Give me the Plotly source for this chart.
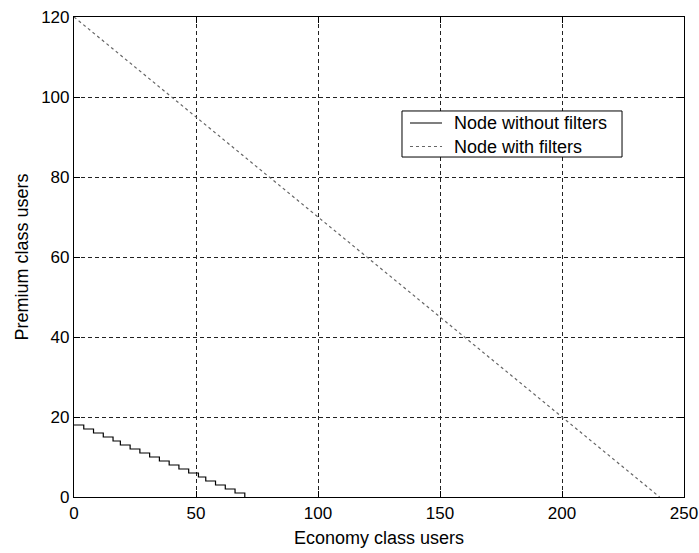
import plotly.graph_objects as go

# Capacity boundary: economy-class users vs. premium-class users
econ_no_filter = [0, 4, 8, 12, 16, 19, 23, 27, 31, 35, 39, 43, 47, 51, 54, 58, 62, 66, 70]
prem_no_filter = [18, 17, 16, 15, 14, 13, 12, 11, 10, 9, 8, 7, 6, 5, 4, 3, 2, 1, 0]

econ_filter = [0, 240]
prem_filter = [120, 0]

x_ticks = [0, 50, 100, 150, 200, 250]
y_ticks = [0, 20, 40, 60, 80, 100, 120]

series_names = ["Node without filters", "Node with filters"]
series_colors = ["black", "#666666"]
series_dash = ["solid", "3px,3px"]

FONT = "Liberation Sans, Arial, sans-serif"

fig = go.Figure()
fig.add_trace(go.Scatter(
    x=econ_no_filter, y=prem_no_filter, mode="lines", line_shape="hv",
    name=series_names[0], line=dict(color=series_colors[0], width=1.2, dash=series_dash[0]),
))
fig.add_trace(go.Scatter(
    x=econ_filter, y=prem_filter, mode="lines",
    name=series_names[1], line=dict(color=series_colors[1], width=1.2, dash=series_dash[1]),
))

axis_common = dict(
    showline=True, linecolor="black", linewidth=1.2, mirror="ticks",
    ticks="inside", ticklen=6, tickcolor="black", tickwidth=1,
    showgrid=True, gridcolor="#222222", gridwidth=1, griddash="4px,3px",
    zeroline=False, automargin=False,
    tickfont=dict(size=17, color="black", family=FONT),
)

fig.update_xaxes(
    range=[0, 250], tickvals=x_ticks, ticktext=[str(v) for v in x_ticks],
    title=dict(text="Economy class users", font=dict(size=18, color="black", family=FONT), standoff=9),
    **axis_common,
)
fig.update_yaxes(
    range=[0, 120], tickvals=y_ticks, ticktext=[str(v) for v in y_ticks],
    title=dict(text="Premium class users", font=dict(size=18, color="black", family=FONT), standoff=7),
    **axis_common,
)

# Compact boxed legend in the upper right part of the axes
box_x0, box_x1 = 0.5377, 0.8984
box_y0, box_y1 = 0.7083, 0.8042
row_y = [0.7792, 0.7302]
sample_x0, sample_x1 = 0.5508, 0.6033
label_x = 0.6213

fig.add_shape(type="rect", xref="paper", yref="paper",
              x0=box_x0, x1=box_x1, y0=box_y0, y1=box_y1,
              line=dict(color="black", width=1), fillcolor="white", layer="above")
for name, color, dash, ry in zip(series_names, series_colors, series_dash, row_y):
    fig.add_shape(type="line", xref="paper", yref="paper",
                  x0=sample_x0, x1=sample_x1, y0=ry, y1=ry,
                  line=dict(color=color, width=1.2, dash=dash), layer="above")
    fig.add_annotation(xref="paper", yref="paper", x=label_x, y=ry,
                       xanchor="left", yanchor="middle", showarrow=False,
                       text=name, font=dict(size=18, color="black", family=FONT),
                       borderpad=0)

fig.update_layout(
    width=699, height=553,
    margin=dict(l=74, r=15, t=17, b=56),
    paper_bgcolor="white", plot_bgcolor="white",
    font=dict(family=FONT, size=17, color="black"),
    showlegend=False,
)

fig.write_html("out.html")
